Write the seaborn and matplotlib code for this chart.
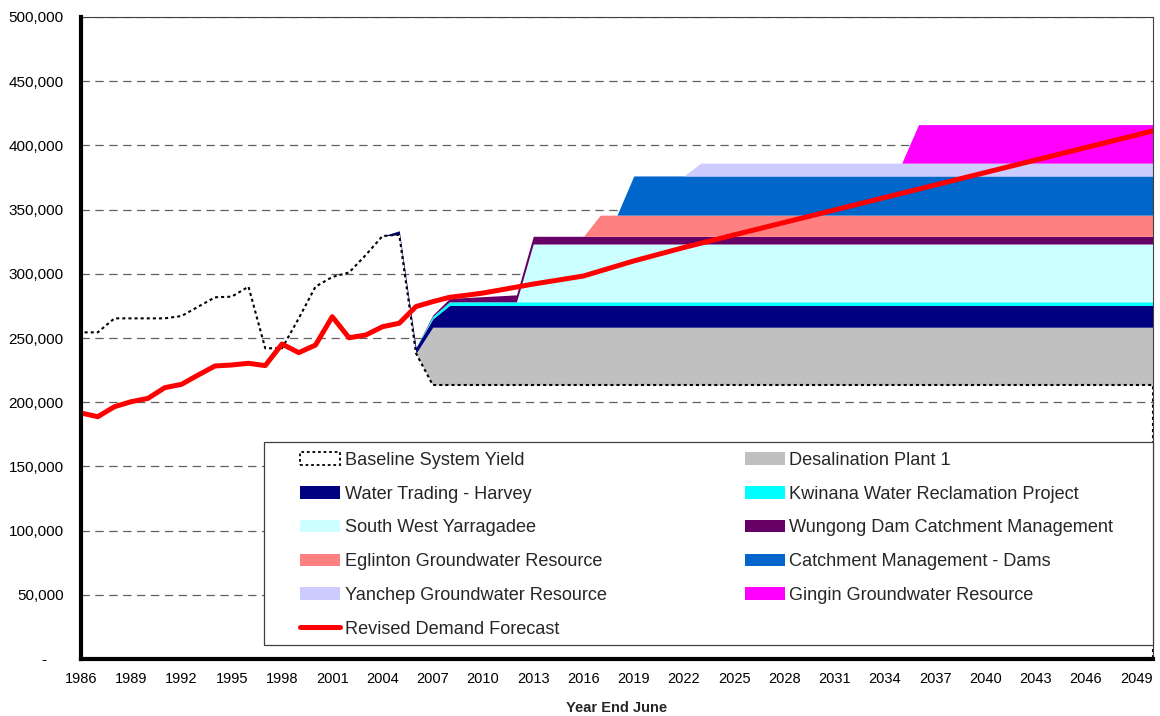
import numpy as np
import pandas as pd
import matplotlib
matplotlib.use("Agg")
import matplotlib.pyplot as plt
from matplotlib.patches import Patch, Rectangle
from matplotlib.lines import Line2D
from matplotlib.ticker import FuncFormatter
import seaborn as sns

# ---- data (ML per year) ----
years = np.arange(1986, 2051)

baseline_years = [1986, 1987, 1988, 1989, 1990, 1991, 1992, 1993, 1994, 1995, 1996,
                  1997, 1998, 1999, 2000, 2001, 2002, 2003, 2004, 2005, 2006, 2007]
baseline_values = [254400, 254400, 265300, 265300, 265300, 265300, 267100, 274400,
                   281700, 282200, 290000, 242000, 242000, 265300, 290000, 297500,
                   301000, 314600, 329400, 330500, 238100, 213400]

# new sources: {year: yield}, each value holds until the next listed year
desalination = {2006: 0, 2007: 45000}
harvey = {2004: 0, 2005: 3000, 2006: 4500, 2007: 6500, 2008: 17000}
kwinana = {2006: 0, 2007: 2000, 2008: 2800}
yarragadee = {2012: 0, 2013: 45000}
wungong = {2006: 0, 2007: 1000, 2008: 2600, 2009: 3300, 2010: 4000, 2011: 4700,
           2012: 5400, 2013: 6000}
eglinton = {2016: 0, 2017: 16500}
catchment = {2018: 0, 2019: 30500}
yanchep = {2022: 0, 2023: 10000}
gingin = {2035: 0, 2036: 30000}

demand_years = [1986, 1987, 1988, 1989, 1990, 1991, 1992, 1993, 1994, 1995, 1996,
                1997, 1998, 1999, 2000, 2001, 2002, 2003, 2004, 2005, 2006, 2007,
                2008, 2009, 2010, 2013, 2016, 2019, 2022, 2025, 2050]
demand_values = [191600, 188700, 196500, 200400, 203000, 211300, 213900, 221200,
                 228200, 229000, 230300, 228500, 245300, 238600, 244500, 266600,
                 250200, 252300, 258800, 261500, 274500, 278300, 281700, 283300,
                 285000, 292000, 298300, 310000, 320500, 330300, 411300]

source_names = ["Desalination Plant 1", "Water Trading - Harvey",
                "Kwinana Water Reclamation Project", "South West Yarragadee",
                "Wungong Dam Catchment Management", "Eglinton Groundwater Resource",
                "Catchment Management - Dams", "Yanchep Groundwater Resource",
                "Gingin Groundwater Resource"]
source_points = [desalination, harvey, kwinana, yarragadee, wungong, eglinton,
                 catchment, yanchep, gingin]
source_colors = ["#C0C0C0", "#000080", "#00FFFF", "#CCFFFF", "#660066",
                 "#FF8080", "#0066CC", "#CCCCFF", "#FF00FF"]

baseline = pd.Series(dict(zip(baseline_years, baseline_values))).reindex(years).ffill()
sources = pd.DataFrame({name: pd.Series(pts).reindex(years).ffill().fillna(0)
                        for name, pts in zip(source_names, source_points)})
demand = pd.DataFrame({"year": demand_years, "demand": demand_values})

# ---- styling ----
sns.set_theme(style="white")
plt.rcParams["font.family"] = ["Liberation Sans", "DejaVu Sans"]
plt.rcParams["lines.scale_dashes"] = False

fig = plt.figure(figsize=(11.6, 7.16), dpi=100)
ax = fig.add_axes([81 / 1160, 57 / 716, 1072 / 1160, 642 / 716])

# baseline at the bottom of the stack (unfilled), supply options on top
ax.stackplot(years, baseline.values, *[sources[c].values for c in source_names],
             colors=["none"] + source_colors, linewidth=0, zorder=2)
ax.collections[0].set_visible(False)

# outline of the baseline system yield
ax.fill_between(years, 0, baseline.values, facecolor="none", edgecolor="black",
                linestyle=(0, (2.2, 2.2)), linewidth=1.5, zorder=3)

# revised demand forecast
sns.lineplot(data=demand, x="year", y="demand", color="#FF0000", linewidth=3.6,
             solid_capstyle="round", ax=ax, zorder=4, legend=False)

# axes
ax.set_xlim(1986, 2050)
ax.set_ylim(0, 500000)
ax.set_xticks(np.arange(1986, 2050, 3))
ax.set_yticks(np.arange(0, 500001, 50000))
ax.yaxis.set_major_formatter(FuncFormatter(lambda v, p: f"{v:,.0f}" if v else "-    "))
ax.set_xlabel("Year End June", fontsize=10.5, fontweight="bold", labelpad=11)
ax.set_ylabel("")

ax.set_axisbelow(True)
ax.yaxis.grid(True, color="#606060", linestyle=(0, (6, 4)), linewidth=0.9)
ax.xaxis.grid(False)

for side in ("left", "bottom"):
    ax.spines[side].set_linewidth(3)
    ax.spines[side].set_color("black")
    ax.spines[side].set_zorder(6)
for side in ("top", "right"):
    ax.spines[side].set_linewidth(0.8)
    ax.spines[side].set_color("#404040")
ax.tick_params(axis="both", which="major", direction="out", length=3.5, width=3,
               color="black", labelsize=10.5, labelcolor="black")
ax.tick_params(axis="y", pad=9, labelsize=11)
ax.tick_params(axis="x", pad=6)

# legend box
ax.add_patch(Rectangle((0.1707, 0.0218), 0.8293, 0.3162, transform=ax.transAxes,
                       facecolor="white", edgecolor="#404040", linewidth=0.9,
                       zorder=7, clip_on=False))

h = {name: Patch(facecolor=col, edgecolor="none") for name, col in zip(source_names, source_colors)}
h["Baseline System Yield"] = Patch(facecolor="none", edgecolor="black",
                                   linestyle=(0, (2, 2)), linewidth=1.3)
h["Revised Demand Forecast"] = Line2D([], [], color="#FF0000", linewidth=3.6,
                                      solid_capstyle="round")
order = ["Baseline System Yield", "Water Trading - Harvey", "South West Yarragadee",
         "Eglinton Groundwater Resource", "Yanchep Groundwater Resource",
         "Revised Demand Forecast",
         "Desalination Plant 1", "Kwinana Water Reclamation Project",
         "Wungong Dam Catchment Management", "Catchment Management - Dams",
         "Gingin Groundwater Resource"]
leg = ax.legend([h[k] for k in order], order, ncol=2, loc="upper left",
                bbox_to_anchor=(0.2043, 0.3224), frameon=False, fontsize=13.1,
                handlelength=2.2, handleheight=0.68, handletextpad=0.25,
                labelspacing=0.92, borderpad=0, borderaxespad=0, columnspacing=7.6)
leg.set_zorder(8)

fig.savefig("out.png", dpi=100)
